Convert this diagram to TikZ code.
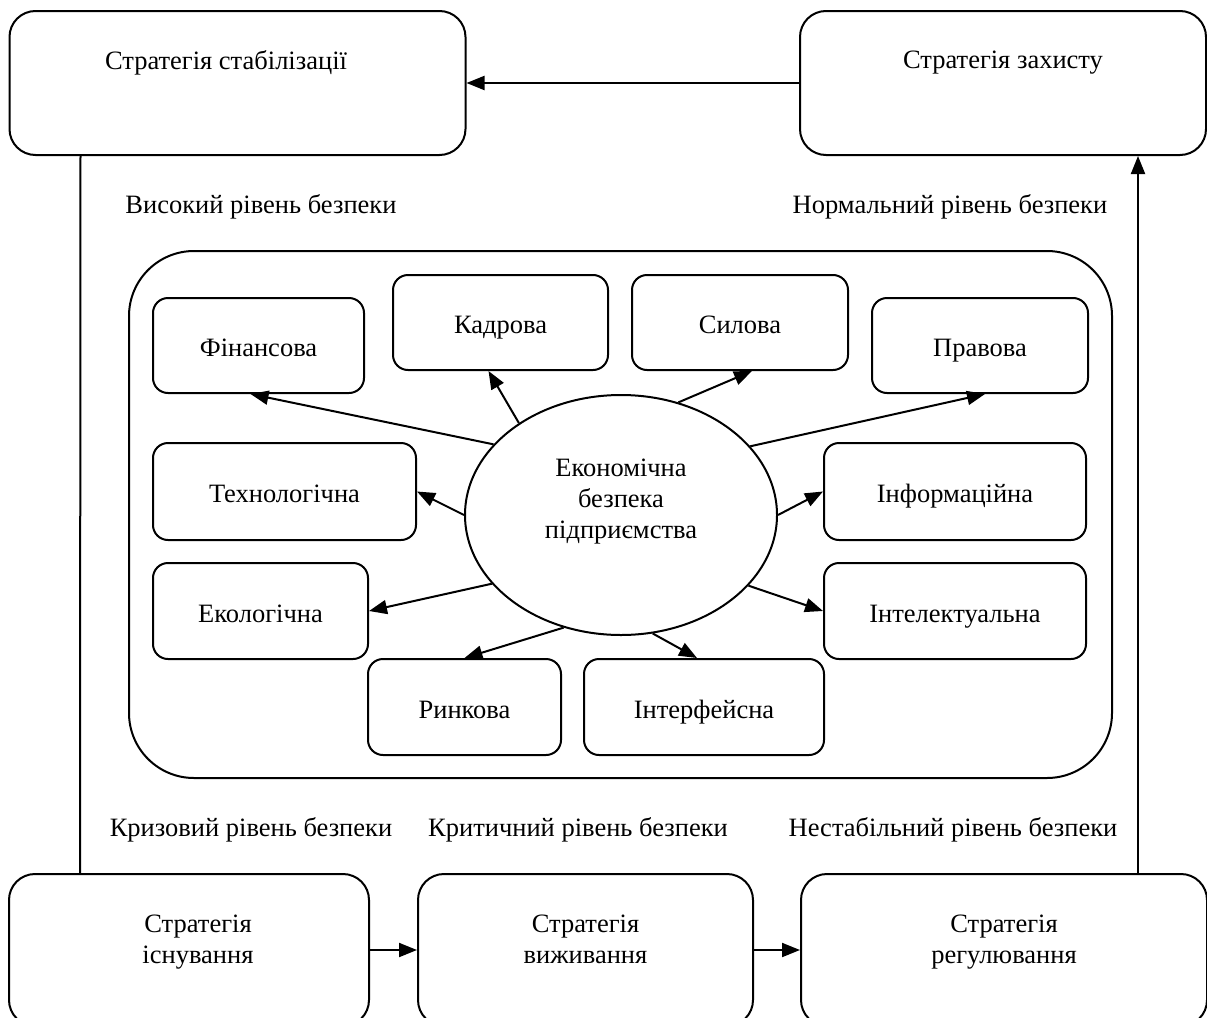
\documentclass[tikz,border=0pt]{standalone}
\usepackage{fontspec}
\setmainfont{Liberation Serif}
\usetikzlibrary{shapes.geometric,arrows.meta,calc}
\begin{document}
\begin{tikzpicture}[x=1pt,y=-1pt,
  every node/.style={font=\fontsize{26.5}{31}\selectfont},
  ln/.style={line width=2pt},
  arr/.style={ln,-{Triangle[length=18pt,width=14pt]}},
  sbox/.style={draw,ln,rounded corners=15pt,inner sep=0pt,text height=22pt,text depth=0pt},
  stratbox/.style={draw,ln,rounded corners=26pt,inner sep=0pt},
  txt/.style={inner sep=0pt,align=center},
  btxt/.style={txt,text depth=6pt}]
\useasboundingbox (0,0) rectangle (1207,1017);
\clip (0,0) rectangle (1207,1017);
% strategy boxes
\node[stratbox,minimum width=456pt,minimum height=144pt] (stab) at (237.5,83) {};
\node[txt] (stabt) at (226,63) {Стратегія стабілізації};
\node[stratbox,minimum width=406pt,minimum height=144pt] (prot) at (1003,83) {};
\node[txt] (prott) at (1003,63) {Стратегія захисту};
\node[stratbox,minimum width=360pt,minimum height=152pt] (exist) at (189,950) {};
\node[btxt] (existt) at (198,942) {Стратегія\\існування};
\node[stratbox,minimum width=335pt,minimum height=152pt] (surv) at (585.5,950) {};
\node[btxt] (survt) at (585.5,942) {Стратегія\\виживання};
\node[stratbox,minimum width=406pt,minimum height=152pt] (reg) at (1004,950) {};
\node[btxt] (regt) at (1004,942) {Стратегія\\регулювання};
% level labels
\node[txt] (l1) at (261,207) {Високий рівень безпеки};
\node[txt] (l2) at (950,207) {Нормальний рівень безпеки};
\node[txt] (l3) at (251,830) {Кризовий рівень безпеки};
\node[txt] (l4) at (578,830) {Критичний рівень безпеки};
\node[txt] (l5) at (953,830) {Нестабільний рівень безпеки};
% outer container
\node[draw,ln,rounded corners=65pt,minimum width=983pt,minimum height=527pt] (outer) at (620.5,514.5) {};
% core ellipse
\node[draw,ln,ellipse,minimum width=312pt,minimum height=240pt,inner sep=0pt] (core) at (621,515) {};
\node[txt] (coret) at (621,502) {Економічна\\безпека\\підприємства};
% inner boxes
\node[sbox,minimum width=211pt,minimum height=95pt] (fin) at (258.5,345.5) {Фінансова};
\node[sbox,minimum width=215pt,minimum height=95pt] (kad) at (500.5,322.5) {Кадрова};
\node[sbox,minimum width=216pt,minimum height=95pt] (sil) at (740,322.5) {Силова};
\node[sbox,minimum width=216pt,minimum height=95pt] (prav) at (980,345.5) {Правова};
\node[sbox,minimum width=263pt,minimum height=97pt] (tech) at (284.5,491.5) {Технологічна};
\node[sbox,minimum width=262pt,minimum height=97pt] (inf) at (955,491.5) {Інформаційна};
\node[sbox,minimum width=215pt,minimum height=96pt] (eko) at (260.5,611) {Екологічна};
\node[sbox,minimum width=262pt,minimum height=96pt] (intl) at (955,611) {Інтелектуальна};
\node[sbox,minimum width=193pt,minimum height=96pt] (ryn) at (464.5,707) {Ринкова};
\node[sbox,minimum width=240pt,minimum height=96pt] (intf) at (704,707) {Інтерфейсна};
% connectors from core
\draw[arr] (core.151.6) -- ([xshift=-8pt]fin.south);
\draw[arr] (core.138.7) -- ([xshift=-12pt]kad.south);
\draw[arr] (core.63.6) -- ([xshift=12pt]sil.south);
\draw[arr] (core.28.8) -- ([xshift=5pt]prav.south);
\draw[arr] (core.180) -- (tech.east);
\draw[arr] (core.0) -- (inf.west);
\draw[arr] (core.208.8) -- (eko.east);
\draw[arr] (core.331.2) -- (intl.west);
\draw[arr] (core.243.8) -- (ryn.north);
\draw[arr] (core.285.8) -- ([xshift=-7pt]intf.north);
% strategy connectors
\draw[arr] (prot.west) -- (stab.east);
\draw[ln] ([xshift=72pt]stab.south west) -- ([xshift=72pt]exist.north west);
\draw[arr] ([xshift=-70pt]reg.north east) -- ([xshift=-69pt]prot.south east);
\draw[arr] (exist.east) -- (surv.west);
\draw[arr] (surv.east) -- (reg.west);
\end{tikzpicture}
\end{document}
